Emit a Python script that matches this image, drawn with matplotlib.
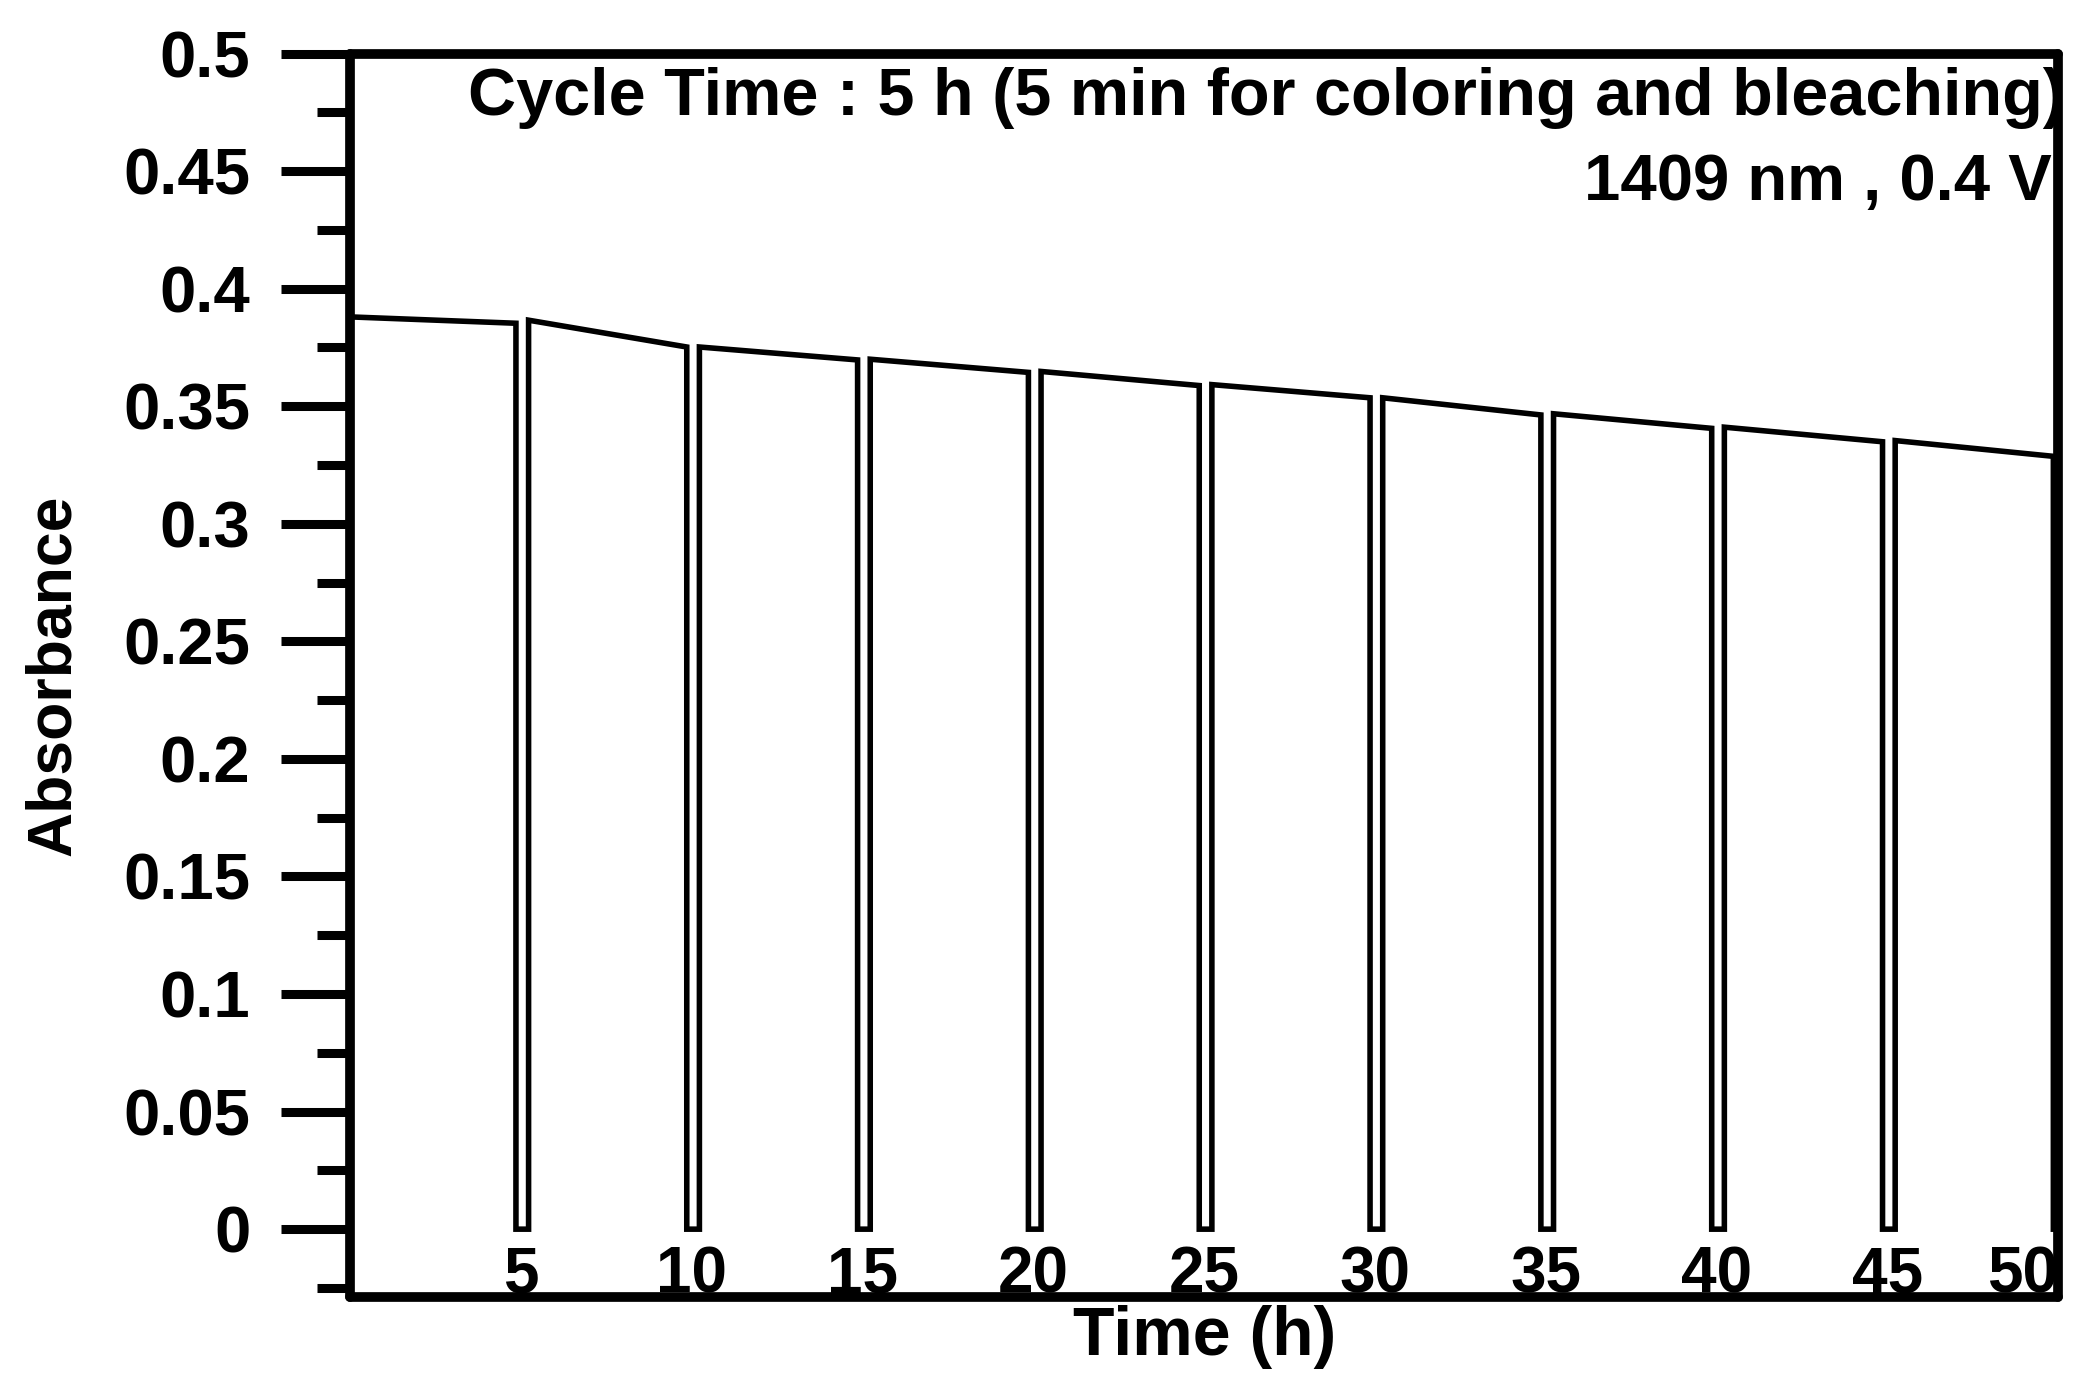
import numpy as np
import matplotlib
matplotlib.use('Agg')
import matplotlib.pyplot as plt
from matplotlib.ticker import MultipleLocator, FuncFormatter

plt.rcParams['font.family'] = 'Liberation Sans'
plt.rcParams['font.weight'] = 'bold'

# absorbance at 1409 nm, one entry per 5 h cycle
a_start = [0.3880, 0.3866, 0.3752, 0.3700, 0.3648, 0.3592, 0.3536, 0.3468, 0.3411, 0.3354]  # right after coloring
a_end = [0.3853, 0.3752, 0.3697, 0.3644, 0.3588, 0.3536, 0.3463, 0.3406, 0.3349, 0.3287]    # just before bleaching
bleach_on = [4.85, 9.85, 14.85, 19.85, 24.85, 29.85, 34.85, 39.85, 44.85, 49.85]   # h
bleach_off = [5.22, 10.22, 15.22, 20.22, 25.22, 30.22, 35.22, 40.22, 45.22, 50.22]  # h
xtick_vals = [5, 10, 15, 20, 25, 30, 35, 40, 45, 50]

# build the trace: slow decay while coloured, drop to 0 during bleaching
t = []
a = []
t_prev = 0.0
for i in range(len(a_start)):
    t += [t_prev, bleach_on[i], bleach_on[i], bleach_off[i]]
    a += [a_start[i], a_end[i], 0.0, 0.0]
    t_prev = bleach_off[i]
t = np.array(t)
a = np.array(a)

fig = plt.figure(figsize=(20.96, 13.95), dpi=100)
ax = fig.add_axes([0.1671, 0.0700, 0.8150, 0.8916])

ax.plot(t, a, color='black', linewidth=4, solid_joinstyle='miter')

ax.set_xlim(0, 50)
ax.set_ylim(-0.029, 0.5)

for s in ax.spines.values():
    s.set_linewidth(7)
    s.set_capstyle('round')

# y axis: outward ticks, labels like 0.45
ax.yaxis.set_major_locator(MultipleLocator(0.05))
ax.yaxis.set_minor_locator(MultipleLocator(0.025))
ax.yaxis.set_major_formatter(FuncFormatter(lambda v, p: '%g' % round(v, 3) if v >= -1e-9 else ''))
ax.tick_params(axis='y', which='major', direction='out', length=50, width=6.5, pad=22, labelsize=47)
ax.tick_params(axis='y', which='minor', direction='out', length=24, width=6.5)

# x axis: no tick marks, labels sit inside the frame
ax.set_xticks(xtick_vals)
ax.set_xticklabels([str(v) for v in xtick_vals])
ax.tick_params(axis='x', which='both', length=0, pad=-37, labelsize=46)
ax.get_xticklabels()[-1].set_ha('right')

ax.set_xlabel('Time (h)', fontsize=49, fontweight='bold')
ax.xaxis.set_label_coords(0.5, -0.032)
ax.xaxis.label.set_va('center')
ax.set_ylabel('Absorbance', fontsize=45, fontweight='bold')
ax.yaxis.set_label_coords(-0.1737, 0.5)
ax.yaxis.label.set_va('center')

ax.text(1.004, 0.9645, 'Cycle Time : 5 h (5 min for coloring and bleaching)', transform=ax.transAxes,
        ha='right', va='center', fontsize=48, fontweight='bold')
ax.text(0.996, 0.8957, '1409 nm , 0.4 V', transform=ax.transAxes,
        ha='right', va='center', fontsize=47, fontweight='bold')

fig.savefig('out.png', dpi=100)
